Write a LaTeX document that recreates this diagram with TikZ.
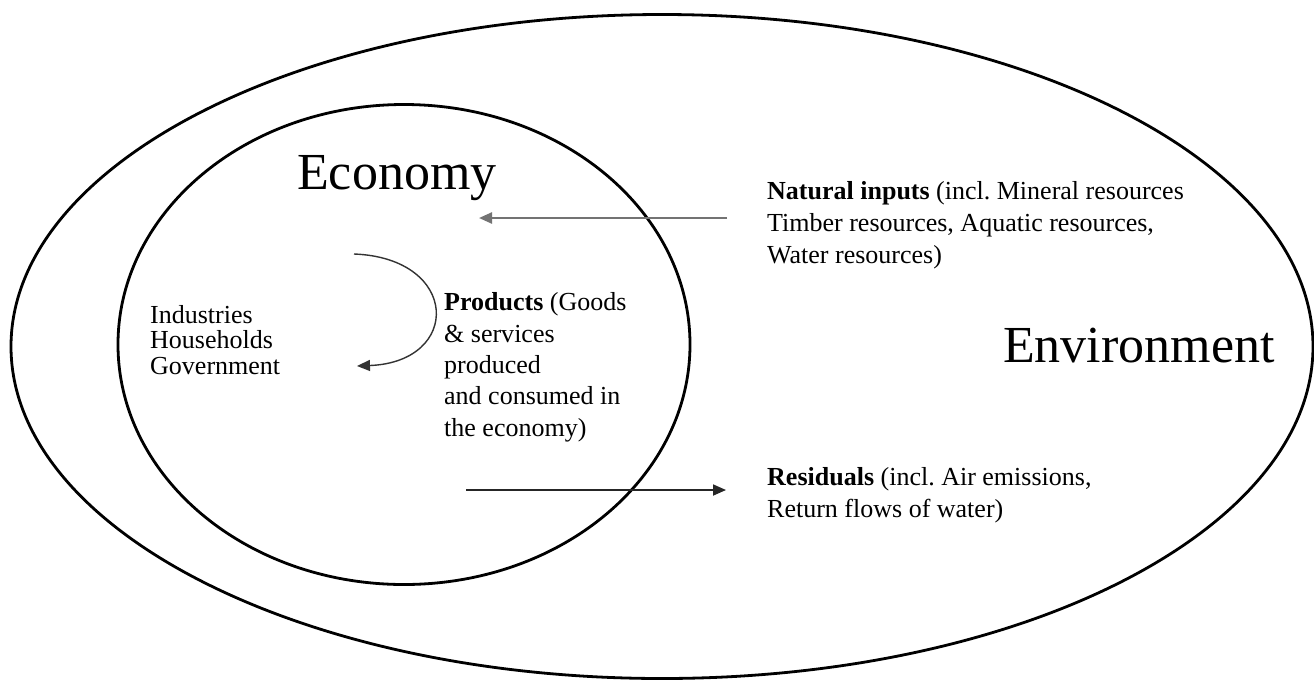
\documentclass[tikz,border=0pt]{standalone}
\usepackage{fontspec}
\setmainfont{Liberation Serif}
\usetikzlibrary{arrows.meta,shapes.geometric}
\frenchspacing
\begin{document}
\begin{tikzpicture}[x=1pt,y=-1pt,
  ring/.style={ellipse,draw=black,line width=2.8pt,inner sep=0pt},
  lbl/.style={anchor=base west,inner sep=0pt,align=left,font=\fontsize{26}{31.5}\selectfont},
  big/.style={anchor=base west,inner sep=0pt,font=\fontsize{52}{60}\selectfont},
  tip/.style={-{Triangle[length=13pt,width=11pt]}},
  flow/.style={tip,line width=1.8pt,draw=black!85},
  inflow/.style={tip,line width=2.4pt,draw=black!55},
  loopflow/.style={tip,line width=1.4pt,draw=black!80}]
\useasboundingbox (0,0) rectangle (1314,681);
\fill[white] (0,0) rectangle (1314,681);
% ellipses
\node[ring,minimum width=1302pt,minimum height=664pt] (env) at (662,346.5) {};
\node[ring,minimum width=572pt,minimum height=480pt] (eco) at (404,344.5) {};
% big labels
\node[big] (ecolbl) at (297,189) {Economy};
\node[big] (envlbl) at (1003,362) {Environment};
% text blocks (anchored at the baseline of their last line)
\node[lbl,font=\fontsize{26}{25.5}\selectfont] (sectors) at (150,374) {Industries\\Households\\Government};
\node[lbl,font=\fontsize{26}{31.3}\selectfont] (products) at (444,436) {\textbf{Products} (Goods\\\& services\\produced\\and consumed in\\the economy)};
\node[lbl,font=\fontsize{26}{32}\selectfont] (natural) at (767,263) {\textbf{Natural inputs} (incl. Mineral resources\\Timber resources, Aquatic resources,\\Water resources)};
\node[lbl,font=\fontsize{26}{31.7}\selectfont] (residuals) at (767,517) {\textbf{Residuals} (incl. Air emissions,\\Return flows of water)};
% arrow end points
\coordinate (natA) at (727,218);
\coordinate (natB) at (479,218);
\coordinate (resA) at (466,490);
\coordinate (resB) at (726,490);
\coordinate (loopA) at (354,254);
\coordinate (loopB) at (357,366);
% connectors
\draw[inflow] (natA) -- (natB);
\draw[flow] (resA) -- (resB);
\draw[loopflow] (loopA) .. controls (460,258) and (462,362) .. (loopB);
\end{tikzpicture}
\end{document}
